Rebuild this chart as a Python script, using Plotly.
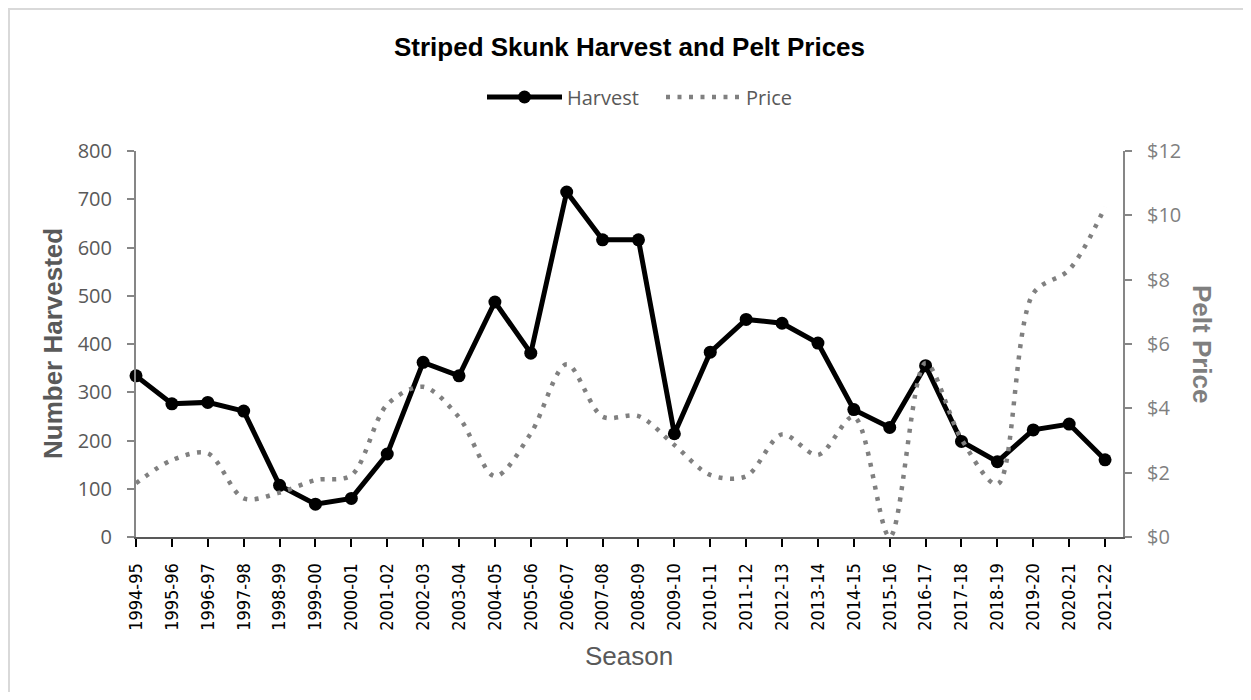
import plotly.graph_objects as go

seasons = ["1994-95", "1995-96", "1996-97", "1997-98", "1998-99", "1999-00", "2000-01",
           "2001-02", "2002-03", "2003-04", "2004-05", "2005-06", "2006-07", "2007-08",
           "2008-09", "2009-10", "2010-11", "2011-12", "2012-13", "2013-14", "2014-15",
           "2015-16", "2016-17", "2017-18", "2018-19", "2019-20", "2020-21", "2021-22"]

harvest = [334, 276, 279, 261, 107, 68, 80, 172, 362, 334, 487, 381, 715, 616,
           616, 214, 383, 451, 443, 402, 264, 227, 355, 198, 156, 222, 234, 160]

price = [1.67, 2.39, 2.60, 1.20, 1.38, 1.77, 1.92, 4.12, 4.67, 3.72, 1.89, 3.22,
         5.37, 3.74, 3.76, 2.86, 1.93, 1.89, 3.19, 2.55, 3.74, 0.0, 5.41, 3.04,
         1.64, 7.57, 8.31, 10.26]

harvest_ticks = [0, 100, 200, 300, 400, 500, 600, 700, 800]
price_ticks = [0, 2, 4, 6, 8, 10, 12]
price_labels = ["$" + str(v) for v in price_ticks]

OFF = 8  # default page body margin
W, H = 1251 - 2 * OFF, 700 - 2 * OFF
L, T = 136 - OFF, 151 - OFF
R = W - (1123 - OFF)
B = H - (537 - OFF)
PW, PH = W - L - R, H - T - B


def px(xp):
    return (xp - OFF - L) / PW


def py(yp):
    return (H - B - (yp - OFF)) / PH


fig = go.Figure()
fig.add_trace(go.Scatter(
    x=seasons, y=harvest, name="Harvest", mode="lines+markers",
    line=dict(color="#000000", width=5),
    marker=dict(color="#000000", size=13),
    cliponaxis=False, yaxis="y",
))
fig.add_trace(go.Scatter(
    x=seasons, y=price, name="Price", mode="lines",
    line=dict(color="#808080", width=4.5, dash="4px,7.5px", shape="spline", smoothing=0.9),
    cliponaxis=False, yaxis="y2",
))

fig.update_layout(
    width=W, height=H,
    margin=dict(l=L, r=R, t=T, b=B),
    paper_bgcolor="white", plot_bgcolor="white",
    title=dict(text="<b>Striped Skunk Harvest and Pelt Prices</b>",
               font=dict(family="Liberation Sans, Arial", size=26, color="#000000"),
               x=0.5, xref="paper", xanchor="center", y=1 - (47 - OFF) / H, yanchor="middle"),
    showlegend=True,
    legend=dict(orientation="h", x=px(482), xanchor="left", y=py(97), yanchor="middle",
                font=dict(family="Open Sans", size=20, color="#595959"),
                itemwidth=75, entrywidth=89, bgcolor="rgba(0,0,0,0)"),
    xaxis=dict(type="category", range=[0, 27.5], showgrid=False, zeroline=False,
               showline=True, linecolor="#595959", linewidth=2,
               ticks="outside", ticklen=8, tickcolor="#000000", tickwidth=2,
               tickangle=-90, tickfont=dict(family="DejaVu Sans Condensed, DejaVu Sans", size=18, color="#000000"),
               ticklabelstandoff=9),
    yaxis=dict(range=[0, 800], tickvals=harvest_ticks, showgrid=False, zeroline=False,
               showline=True, linecolor="#868686", linewidth=2,
               ticks="outside", ticklen=7, tickcolor="#868686", tickwidth=1.5,
               tickfont=dict(family="Open Sans", size=20, color="#595959"),
               ticklabelstandoff=11),
    yaxis2=dict(range=[0, 12], tickvals=price_ticks, ticktext=price_labels, overlaying="y", side="right",
                showgrid=False, zeroline=False,
                showline=True, linecolor="#868686", linewidth=2,
                ticks="outside", ticklen=7, tickcolor="#868686", tickwidth=1.5,
                tickfont=dict(family="Open Sans", size=20, color="#7f7f7f"),
                ticklabelstandoff=11),
    annotations=[
        dict(text="<b>Number Harvested</b>", x=px(53), y=py(344), xref="paper", yref="paper",
             textangle=-90, showarrow=False, xanchor="center", yanchor="middle",
             font=dict(family="Liberation Sans, Arial", size=26, color="#595959")),
        dict(text="<b>Pelt Price</b>", x=px(1202), y=py(344), xref="paper", yref="paper",
             textangle=90, showarrow=False, xanchor="center", yanchor="middle",
             font=dict(family="Liberation Sans, Arial", size=26, color="#7f7f7f")),
        dict(text="Season", x=px(629), y=py(656), xref="paper", yref="paper",
             showarrow=False, xanchor="center", yanchor="middle",
             font=dict(family="Liberation Sans, Arial", size=26, color="#595959")),
    ],
    shapes=[
        dict(type="rect", xref="paper", yref="paper",
             x0=px(OFF + 1), x1=px(1300), y0=py(OFF + 1), y1=py(760),
             line=dict(color="#d9d9d9", width=2), fillcolor="rgba(0,0,0,0)", layer="below"),
    ],
)

fig.write_html("out.html")
